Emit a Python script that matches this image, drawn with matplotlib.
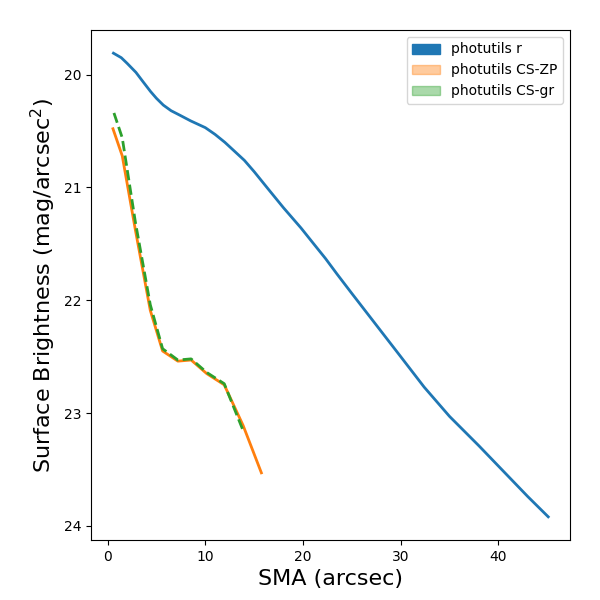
import matplotlib
matplotlib.use('Agg')
import matplotlib.pyplot as plt
from matplotlib.patches import Patch

# photutils r profile
sma_r = [0.6, 1.0, 1.4, 2.0, 2.9, 3.6, 4.4, 5.0, 5.7, 6.5, 7.4, 8.5, 10.0,
         11.0, 12.0, 13.0, 14.0, 15.0, 16.4, 18.0, 19.8, 21.0, 22.3, 23.5,
         25.0, 27.5, 30.0, 32.4, 35.0, 38.0, 41.0, 43.0, 45.1]
sb_r = [19.81, 19.83, 19.85, 19.90, 19.98, 20.06, 20.15, 20.21, 20.27, 20.32,
        20.36, 20.41, 20.47, 20.53, 20.60, 20.68, 20.76, 20.86, 21.01, 21.18,
        21.36, 21.49, 21.63, 21.77, 21.94, 22.22, 22.50, 22.77, 23.03, 23.29,
        23.56, 23.74, 23.92]

# CS-ZP profile
sma_zp = [0.55, 1.5, 2.85, 4.37, 5.63, 7.19, 8.55, 10.14, 11.94, 13.87, 15.74]
sb_zp = [20.48, 20.72, 21.38, 22.09, 22.45, 22.54, 22.53, 22.65, 22.75, 23.11, 23.53]

# CS-gr profile
sma_gr = [0.65, 1.5, 2.85, 4.37, 5.63, 7.19, 8.55, 10.14, 11.94, 13.8]
sb_gr = [20.34, 20.56, 21.31, 22.04, 22.43, 22.53, 22.52, 22.64, 22.74, 23.14]

fig, ax = plt.subplots(figsize=(6, 6), dpi=100)
fig.subplots_adjust(left=0.152, right=0.95, bottom=0.1, top=0.95)

ax.plot(sma_r, sb_r, color='C0', lw=2)
ax.plot(sma_zp, sb_zp, color='C1', lw=2)
ax.plot(sma_gr, sb_gr, color='C2', lw=2, ls='--')

ax.invert_yaxis()
ax.set_xlabel("SMA (arcsec)", fontsize=16)
ax.set_ylabel("Surface Brightness (mag/arcsec$^2$)", fontsize=16)

handles = [Patch(color='C0', label='photutils r'),
           Patch(color='C1', alpha=0.4, label='photutils CS-ZP'),
           Patch(color='C2', alpha=0.4, label='photutils CS-gr')]
ax.legend(handles=handles, loc='upper right')

plt.savefig("out.png", dpi=100)
